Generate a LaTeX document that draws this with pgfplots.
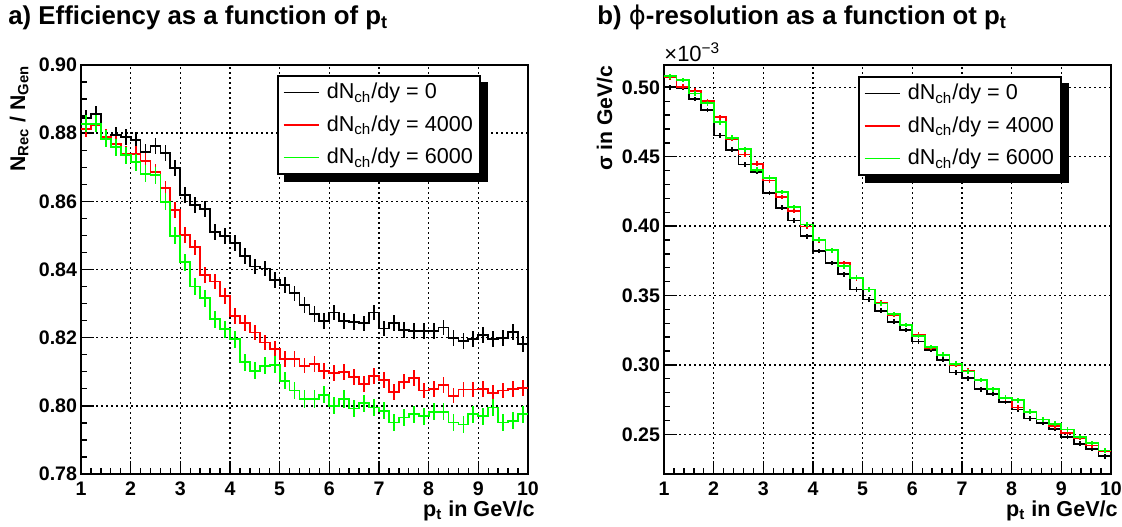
\documentclass[border=0pt]{standalone}
\usepackage{fontspec}
\setmainfont{Liberation Sans}
\newfontfamily\dejavu{DejaVu Sans}
\usepackage{pgfplots}
\usepackage{pgfplotstable}
\pgfplotsset{compat=1.18}

\pgfplotstableread{
x y
1.0 0.8845
1.2 0.8857
1.4 0.8790
1.6 0.8795
1.8 0.8788
2.0 0.8780
2.2 0.8745
2.4 0.8762
2.6 0.8742
2.8 0.8697
3.0 0.8618
3.2 0.8589
3.4 0.8577
3.6 0.8511
3.8 0.8498
4.0 0.8477
4.2 0.8439
4.4 0.8409
4.6 0.8403
4.8 0.8370
5.0 0.8355
5.2 0.8330
5.4 0.8295
5.6 0.8270
5.8 0.8248
6.0 0.8274
6.2 0.8249
6.4 0.8246
6.6 0.8242
6.8 0.8274
7.0 0.8227
7.2 0.8244
7.4 0.8223
7.6 0.8220
7.8 0.8220
8.0 0.8220
8.2 0.8230
8.4 0.8200
8.6 0.8191
8.8 0.8196
9.0 0.8207
9.2 0.8196
9.4 0.8200
9.6 0.8217
9.8 0.8181
10.0 0.8181
}\effblack

\pgfplotstableread{
x y
1.0 0.8813
1.2 0.8825
1.4 0.8788
1.6 0.8769
1.8 0.8740
2.0 0.8738
2.2 0.8718
2.4 0.8686
2.6 0.8638
2.8 0.8574
3.0 0.8501
3.2 0.8465
3.4 0.8384
3.6 0.8365
3.8 0.8322
4.0 0.8264
4.2 0.8244
4.4 0.8215
4.6 0.8186
4.8 0.8166
5.0 0.8137
5.2 0.8138
5.4 0.8118
5.6 0.8123
5.8 0.8103
6.0 0.8096
6.2 0.8100
6.4 0.8084
6.6 0.8064
6.8 0.8088
7.0 0.8076
7.2 0.8040
7.4 0.8071
7.6 0.8081
7.8 0.8045
8.0 0.8050
8.2 0.8062
8.4 0.8030
8.6 0.8048
8.8 0.8048
9.0 0.8050
9.2 0.8038
9.4 0.8045
9.6 0.8050
9.8 0.8052
10.0 0.8052
}\effred

\pgfplotstableread{
x y
1.0 0.8827
1.2 0.8827
1.4 0.8784
1.6 0.8759
1.8 0.8735
2.0 0.8715
2.2 0.8681
2.4 0.8677
2.6 0.8599
2.8 0.8499
3.0 0.8421
3.2 0.8350
3.4 0.8316
3.6 0.8254
3.8 0.8225
4.0 0.8196
4.2 0.8128
4.4 0.8103
4.6 0.8118
4.8 0.8120
5.0 0.8073
5.2 0.8045
5.4 0.8020
5.6 0.8020
5.8 0.8032
6.0 0.8000
6.2 0.8020
6.4 0.7992
6.6 0.8008
6.8 0.7995
7.0 0.7985
7.2 0.7951
7.4 0.7966
7.6 0.7975
7.8 0.7970
8.0 0.7983
8.2 0.7983
8.4 0.7951
8.6 0.7945
8.8 0.7975
9.0 0.7970
9.2 0.7995
9.4 0.7951
9.6 0.7956
9.8 0.7975
10.0 0.7975
}\effgreen

\pgfplotstableread{
x y
1.00 0.5000
1.25 0.4995
1.50 0.4916
1.75 0.4837
2.00 0.4653
2.25 0.4550
2.50 0.4444
2.75 0.4389
3.00 0.4238
3.25 0.4132
3.50 0.4041
3.75 0.3926
4.00 0.3821
4.25 0.3735
4.50 0.3654
4.75 0.3544
5.00 0.3472
5.25 0.3391
5.50 0.3312
5.75 0.3252
6.00 0.3168
6.25 0.3109
6.50 0.3037
6.75 0.2946
7.00 0.2904
7.25 0.2824
7.50 0.2790
7.75 0.2734
8.00 0.2679
8.25 0.2614
8.50 0.2582
8.75 0.2541
9.00 0.2480
9.25 0.2433
9.50 0.2396
9.75 0.2341
10.00 0.2341
}\resblack

\pgfplotstableread{
x y
1.00 0.5072
1.25 0.5005
1.50 0.4975
1.75 0.4899
2.00 0.4784
2.25 0.4629
2.50 0.4516
2.75 0.4449
3.00 0.4329
3.25 0.4209
3.50 0.4108
3.75 0.3998
4.00 0.3897
4.25 0.3826
4.50 0.3735
4.75 0.3623
5.00 0.3544
5.25 0.3448
5.50 0.3360
5.75 0.3288
6.00 0.3217
6.25 0.3121
6.50 0.3073
6.75 0.3001
7.00 0.2959
7.25 0.2891
7.50 0.2824
7.75 0.2758
8.00 0.2693
8.25 0.2662
8.50 0.2606
8.75 0.2558
9.00 0.2510
9.25 0.2476
9.50 0.2420
9.75 0.2379
10.00 0.2379
}\resred

\pgfplotstableread{
x y
1.00 0.5080
1.25 0.5053
1.50 0.4955
1.75 0.4885
2.00 0.4748
2.25 0.4636
2.50 0.4554
2.75 0.4406
3.00 0.4348
3.25 0.4245
3.50 0.4137
3.75 0.4012
4.00 0.3902
4.25 0.3826
4.50 0.3711
4.75 0.3628
5.00 0.3544
5.25 0.3443
5.50 0.3367
5.75 0.3288
6.00 0.3209
6.25 0.3130
6.50 0.3073
6.75 0.3008
7.00 0.2952
7.25 0.2891
7.50 0.2824
7.75 0.2763
8.00 0.2746
8.25 0.2662
8.50 0.2606
8.75 0.2577
9.00 0.2534
9.25 0.2480
9.50 0.2437
9.75 0.2384
10.00 0.2384
}\resgreen

\definecolor{rootred}{RGB}{255,0,0}
\definecolor{rootgreen}{RGB}{0,255,0}

\pgfplotsset{
  rootaxis/.style={
    scale only axis,
    width=223.5bp, height=204.5bp,
    anchor=south west,
    clip mode=individual,
    xmin=1, xmax=10,
    xtick={1,2,...,10},
    minor x tick num=4,
    tick align=inside,
    xtick pos=bottom, ytick pos=left,
    major tick length=6.5bp, minor tick length=3.2bp,
    every tick/.style={black, line width=0.7bp},
    axis line style={line width=1bp},
    grid=major,
    major grid style={black, line width=0.7bp, dash pattern=on 0.9bp off 1.6bp},
    scaled ticks=false,
    /pgf/number format/assume math mode=true,
    tick label style={font=\fontsize{9.8bp}{11bp}\selectfont\bfseries},
    xticklabel style={inner sep=0pt, anchor=north, yshift=-3.6bp},
    yticklabel style={inner sep=0pt, anchor=east, xshift=-1.8bp,
      /pgf/number format/.cd, fixed, fixed zerofill, precision=2},
    legend cell align=left,
    legend image code/.code={\draw[##1, line width=0.8bp] (0bp,0bp) -- (17.5bp,0bp);},
    legend style={draw=black, line width=0.8bp, fill=white,
      font=\fontsize{10.8bp}{13bp}\selectfont,
      inner xsep=2.5bp, inner ysep=2.5bp,
      /tikz/row sep=4.5bp, /tikz/column sep=2.5bp,
      nodes={inner sep=1.2bp}},
  },
  histo/.style={const plot, line width=0.9bp},
  errb/.style={forget plot, mark=none, draw=none,
    error bars/y dir=both, error bars/y fixed=#1, error bars/error mark=none,
    restrict x to domain=0:9.99},
}

\newcommand\legshadow[1]{%
  \fill[black] ([yshift=-3.5bp]#1.north east) rectangle ([xshift=3.5bp,yshift=-3.5bp]#1.south east);
  \fill[black] ([xshift=3.5bp]#1.south west) rectangle ([xshift=3.5bp,yshift=-3.5bp]#1.south east);
}

\begin{document}
\begin{tikzpicture}
\path[use as bounding box] (0bp,0bp) rectangle (561bp,263.5bp);
\node[anchor=base west, font=\fontsize{12.9bp}{15bp}\selectfont\bfseries, inner sep=0pt]
  at (4bp,251bp) {a) Efficiency as a function of p\textsubscript{t}};
\node[anchor=base west, font=\fontsize{12.9bp}{15bp}\selectfont\bfseries, inner sep=0pt]
  at (298.5bp,251bp) {b) {\dejavu\mdseries ϕ}-resolution as a function ot p\textsubscript{t}};

\begin{axis}[rootaxis, at={(40.5bp,26.5bp)},
  ymin=0.78, ymax=0.90, ytick={0.78,0.80,...,0.901}, minor y tick num=3,
  legend style={at={(0.4385,0.9756)}, anchor=north west, name=legA}]
  \addplot[histo, black] table[x=x,y=y] {\effblack};
  \addlegendentry{dN\textsubscript{ch}/dy = 0}
  \addplot[histo, rootred] table[x=x,y=y] {\effred};
  \addlegendentry{dN\textsubscript{ch}/dy = 4000}
  \addplot[histo, rootgreen] table[x=x,y=y] {\effgreen};
  \addlegendentry{dN\textsubscript{ch}/dy = 6000}
  \addplot[errb=0.0023, error bars/error bar style={draw=black, line width=0.9bp}]
    table[x expr=\thisrow{x}+0.1, y=y] {\effblack};
  \addplot[errb=0.0023, error bars/error bar style={draw=rootred, line width=0.9bp}]
    table[x expr=\thisrow{x}+0.1, y=y] {\effred};
  \addplot[errb=0.0025, error bars/error bar style={draw=rootgreen, line width=0.9bp}]
    table[x expr=\thisrow{x}+0.1, y=y] {\effgreen};
  \node[rotate=90, anchor=base east, inner sep=0pt, font=\fontsize{10.6bp}{12bp}\selectfont\bfseries]
    at (axis description cs:-0.125,1) {N\textsubscript{Rec} / N\textsubscript{Gen}};
  \node[anchor=base east, inner sep=0pt, font=\fontsize{10.8bp}{12bp}\selectfont\bfseries]
    at (axis description cs:1.016,-0.104) {p\textsubscript{t} in GeV/c};
\end{axis}
\legshadow{legA}

\begin{axis}[rootaxis, at={(332bp,26.5bp)},
  ymin=0.2214, ymax=0.5161, ytick={0.25,0.30,...,0.501}, minor y tick num=4,
  legend style={at={(0.434,0.973)}, anchor=north west, name=legB}]
  \addplot[histo, black] table[x=x,y=y] {\resblack};
  \addlegendentry{dN\textsubscript{ch}/dy = 0}
  \addplot[histo, rootred] table[x=x,y=y] {\resred};
  \addlegendentry{dN\textsubscript{ch}/dy = 4000}
  \addplot[histo, rootgreen] table[x=x,y=y] {\resgreen};
  \addlegendentry{dN\textsubscript{ch}/dy = 6000}
  \addplot[errb=0.0017, error bars/error bar style={draw=black, line width=0.9bp}]
    table[x expr=\thisrow{x}+0.125, y=y] {\resblack};
  \addplot[errb=0.0017, error bars/error bar style={draw=rootred, line width=0.9bp}]
    table[x expr=\thisrow{x}+0.125, y=y] {\resred};
  \addplot[errb=0.0017, error bars/error bar style={draw=rootgreen, line width=0.9bp}]
    table[x expr=\thisrow{x}+0.125, y=y] {\resgreen};
  \node[anchor=base west, inner sep=0pt, font=\fontsize{11bp}{12bp}\selectfont]
    at (axis description cs:0,1.008) {×10\textsuperscript{−3}};
  \node[rotate=90, anchor=base east, inner sep=0pt, font=\fontsize{10.6bp}{12bp}\selectfont\bfseries]
    at (axis description cs:-0.116,1) {σ in GeV/c};
  \node[anchor=base east, inner sep=0pt, font=\fontsize{10.8bp}{12bp}\selectfont\bfseries]
    at (axis description cs:1.016,-0.104) {p\textsubscript{t} in GeV/c};
\end{axis}
\legshadow{legB}
\end{tikzpicture}
\end{document}
